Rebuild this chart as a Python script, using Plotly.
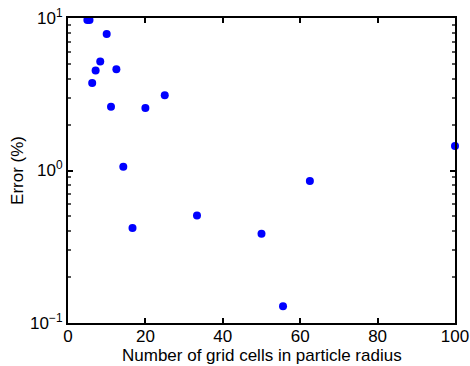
import plotly.graph_objects as go

grid_cells = [5.0, 5.56, 6.25, 7.14, 8.33, 10.0, 11.11, 12.5, 14.29, 16.67,
              20.0, 25.0, 33.33, 50.0, 55.56, 62.5, 100.0]
error_pct = [9.7, 9.7, 3.75, 4.53, 5.19, 7.85, 2.62, 4.61, 1.06, 0.42,
             2.57, 3.11, 0.506, 0.385, 0.129, 0.855, 1.45]

x_ticks = [0, 20, 40, 60, 80, 100]
y_ticks = [0.1, 1, 10]
y_ticktext = ["10<sup>\u22121</sup>", "10<sup>0</sup>", "10<sup>1</sup>"]
y_minor = [0.2, 0.3, 0.4, 0.5, 0.6, 0.7, 0.8, 0.9, 2, 3, 4, 5, 6, 7, 8, 9]

font = dict(family="Liberation Sans, Arial, sans-serif", size=17, color="black")

H, T, B = 366, 18, 43
plot_h = H - T - B

fig = go.Figure()
fig.add_trace(go.Scatter(
    x=grid_cells, y=error_pct, mode="markers",
    marker=dict(color="#0000FF", size=8, line=dict(width=0)),
    cliponaxis=False, showlegend=False,
))

fig.update_layout(
    width=470, height=H,
    margin=dict(l=68, r=15, t=T, b=B, autoexpand=False),
    paper_bgcolor="white", plot_bgcolor="white",
    font=font,
    xaxis=dict(
        range=[0, 100], tickvals=x_ticks, ticks="inside", ticklen=5,
        tickwidth=1.5, tickcolor="black", automargin=False,
        ticklabelstandoff=-3,
        showline=True, linecolor="black", linewidth=2, mirror="allticks",
        showgrid=False, zeroline=False,
        tickfont=font,
    ),
    yaxis=dict(
        type="log", range=[-1, 1], tickvals=y_ticks, ticktext=y_ticktext,
        ticks="inside", ticklen=5, tickwidth=1.5, tickcolor="black", automargin=False,
        showline=True, linecolor="black", linewidth=2, mirror="allticks",
        showgrid=False, zeroline=False,
        minor=dict(ticks="inside", ticklen=3, tickcolor="#555555",
                   tickvals=y_minor, showgrid=False),
        title=dict(text="Error (%)", font=font, standoff=2),
        tickfont=font,
    ),
    annotations=[dict(
        text="Number of grid cells in particle radius",
        xref="paper", yref="paper", x=0.5, y=-(355 - (H - B)) / plot_h,
        xanchor="center", yanchor="middle", showarrow=False, font=font,
    )],
)

fig.write_html("out.html")
